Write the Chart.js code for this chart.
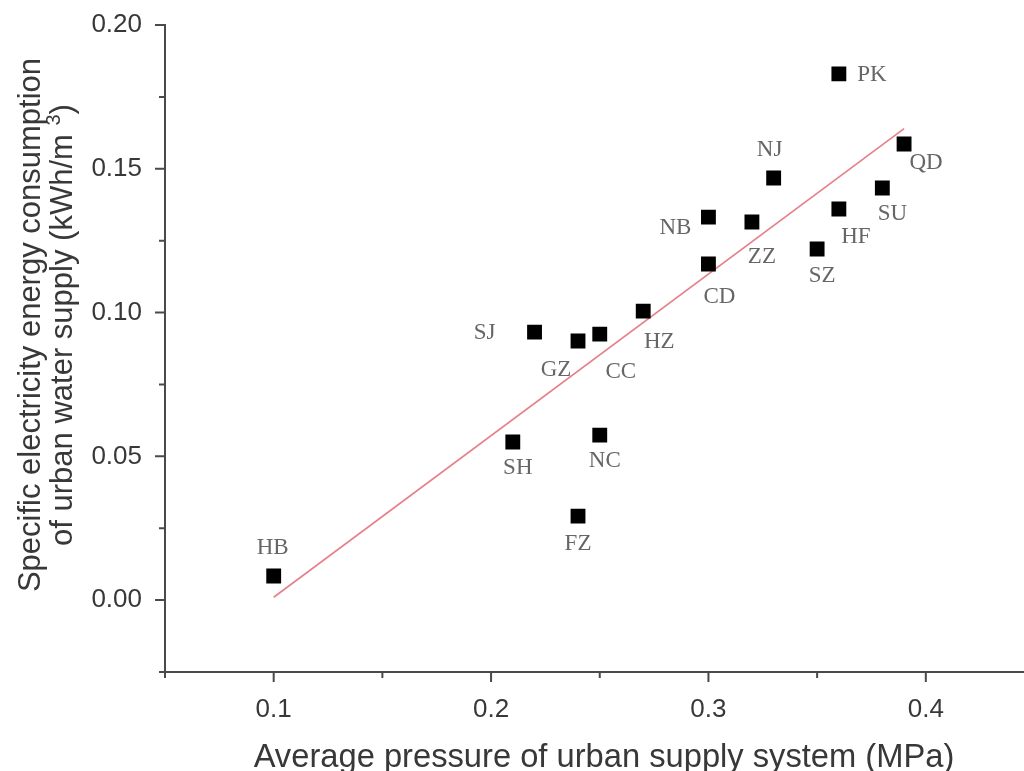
<!DOCTYPE html>
<html>
<head>
<meta charset="utf-8">
<title>Pressure vs energy consumption</title>
<script src="https://cdn.jsdelivr.net/npm/chart.js@4.4.1/dist/chart.umd.min.js"></script>
<style>
  html, body { margin: 0; padding: 0; background: #fff; overflow: hidden; }
  #wrap { width: 1024px; height: 771px; overflow: hidden; }
</style>
</head>
<body>
<div id="wrap"><canvas id="chart" width="1045" height="771"></canvas></div>
<script>
// city codes and the measured values
const cities   = ['HB', 'FZ', 'SH', 'NC', 'SJ', 'GZ', 'CC', 'HZ', 'CD', 'NB', 'ZZ', 'NJ', 'SZ', 'HF', 'SU', 'QD', 'PK'];
const pressure = [0.10, 0.24, 0.21, 0.25, 0.22, 0.24, 0.25, 0.27, 0.30, 0.30, 0.32, 0.33, 0.35, 0.36, 0.38, 0.39, 0.36];
const energy   = [0.0084, 0.0292, 0.0550, 0.0574, 0.0932, 0.0901, 0.0925, 0.1005, 0.1169, 0.1332, 0.1315, 0.1468, 0.1221, 0.1360, 0.1433, 0.1586, 0.1830];

// linear fit, end points
const fitX = [0.10, 0.39];
const fitY = [0.001, 0.164];

// axis ticks
const xTicks = [0.1, 0.2, 0.3, 0.4];
const xMinor = [0.05, 0.15, 0.25, 0.35];
const yTicks = [0.00, 0.05, 0.10, 0.15, 0.20];
const yMinor = [-0.025, 0.025, 0.075, 0.125, 0.175];

const xTitle = 'Average pressure of urban supply system (MPa)';
const yTitle1 = 'Specific electricity energy consumption';
const yTitle2 = 'of urban water supply (kWh/m ';

// where each city code sits relative to its marker (px)
const labelPos = {
  HB: [-1, -28], FZ: [0, 28], SH: [5, 26], NC: [5, 26], SJ: [-50, 1],
  GZ: [-22, 29], CC: [21, 38], HZ: [16, 31], CD: [11, 33], NB: [-33, 11],
  ZZ: [10, 35], NJ: [-4, -28], SZ: [5, 27], HF: [17, 28], SU: [10, 26],
  QD: [22, 19], PK: [33, 1]
};

const axisColor = '#4a4a4a';
const textColor = '#383838';
const sans = '"Liberation Sans", Arial, sans-serif';

const extras = {
  id: 'extras',
  afterDraw(chart) {
    const ctx = chart.ctx;
    const xs = chart.scales.x, ys = chart.scales.y;
    const area = chart.chartArea;
    ctx.save();

    // tick marks, pointing outwards
    ctx.strokeStyle = axisColor;
    ctx.lineWidth = 2;
    ctx.beginPath();
    xTicks.forEach(v => { const px = xs.getPixelForValue(v); ctx.moveTo(px, area.bottom); ctx.lineTo(px, area.bottom + 10); });
    xMinor.forEach(v => { const px = xs.getPixelForValue(v); ctx.moveTo(px, area.bottom); ctx.lineTo(px, area.bottom + 6); });
    yTicks.forEach(v => { const py = ys.getPixelForValue(v); ctx.moveTo(area.left, py); ctx.lineTo(area.left - 10, py); });
    yMinor.forEach(v => { const py = ys.getPixelForValue(v); ctx.moveTo(area.left, py); ctx.lineTo(area.left - 6, py); });
    ctx.stroke();

    // city labels
    ctx.font = '23px "Liberation Serif", "Times New Roman", serif';
    ctx.fillStyle = '#666';
    ctx.textAlign = 'center';
    ctx.textBaseline = 'middle';
    cities.forEach((c, i) => {
      const px = xs.getPixelForValue(pressure[i]);
      const py = ys.getPixelForValue(energy[i]);
      const off = labelPos[c];
      ctx.fillText(c, px + off[0], py + off[1]);
    });

    // axis titles
    ctx.fillStyle = textColor;
    ctx.font = '32.7px ' + sans;
    ctx.textBaseline = 'alphabetic';
    ctx.fillText(xTitle, 604, 767);

    ctx.translate(0, 325);
    ctx.rotate(-Math.PI / 2);
    ctx.textBaseline = 'middle';
    ctx.font = '31px ' + sans;
    ctx.fillText(yTitle1, 0, 31);
    // second line with a superscript 3
    const w1 = ctx.measureText(yTitle2).width;
    const w3 = ctx.measureText(')').width;
    ctx.font = '20px ' + sans;
    const w2 = ctx.measureText('3').width;
    const x0 = -(w1 + w2 + w3) / 2;
    ctx.textAlign = 'left';
    ctx.font = '31px ' + sans;
    ctx.fillText(yTitle2, x0, 63);
    ctx.font = '20px ' + sans;
    ctx.fillText('3', x0 + w1, 54);
    ctx.font = '31px ' + sans;
    ctx.fillText(')', x0 + w1 + w2, 63);
    ctx.restore();
  }
};

new Chart(document.getElementById('chart'), {
  type: 'scatter',
  data: {
    datasets: [
      {
        label: 'fit',
        data: fitX.map((x, i) => ({ x: x, y: fitY[i] })),
        showLine: true,
        borderColor: 'rgba(226, 105, 115, 0.85)',
        borderWidth: 1.6,
        pointRadius: 0,
        order: 2
      },
      {
        label: 'cities',
        data: pressure.map((x, i) => ({ x: x, y: energy[i] })),
        pointStyle: 'rect',
        pointRadius: 10.5,
        pointBackgroundColor: '#000',
        pointBorderWidth: 0,
        order: 1
      }
    ]
  },
  options: {
    responsive: false,
    animation: false,
    devicePixelRatio: 1,
    layout: { padding: { top: 25, right: 10.5, left: 0, bottom: 0 } },
    plugins: { legend: { display: false }, tooltip: { enabled: false } },
    scales: {
      x: {
        type: 'linear',
        min: 0.05,
        max: 0.45,
        afterBuildTicks: s => { s.ticks = xTicks.map(v => ({ value: v })); },
        afterFit: s => { s.height = 99; s.paddingLeft = 0; s.paddingRight = 0; },
        ticks: {
          padding: 22,
          color: textColor,
          font: { family: sans, size: 26 },
          callback: v => v.toFixed(1)
        },
        grid: { display: true, drawOnChartArea: false, drawTicks: false },
        border: { display: true, color: axisColor, width: 2 }
      },
      y: {
        type: 'linear',
        min: -0.025,
        max: 0.20,
        afterBuildTicks: s => { s.ticks = yTicks.map(v => ({ value: v })); },
        afterFit: s => { s.width = 165; s.paddingTop = 0; s.paddingBottom = 0; },
        ticks: {
          padding: 23,
          color: textColor,
          font: { family: sans, size: 26 },
          callback: v => v.toFixed(2)
        },
        grid: { display: true, drawOnChartArea: false, drawTicks: false },
        border: { display: true, color: axisColor, width: 2 }
      }
    }
  },
  plugins: [extras]
});
</script>
</body>
</html>
